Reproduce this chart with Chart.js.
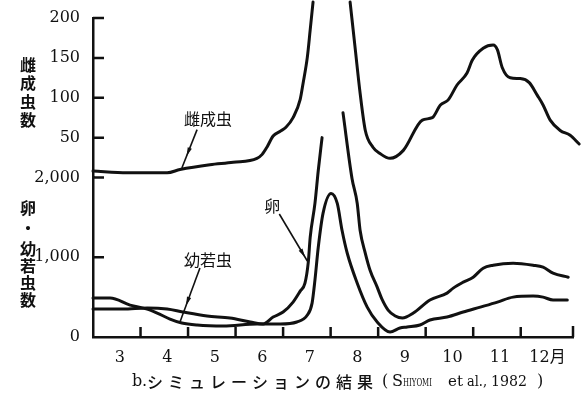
<!DOCTYPE html>
<html>
<head>
<meta charset="utf-8">
<script src="https://cdn.jsdelivr.net/npm/chart.js@4.4.1/dist/chart.umd.min.js"></script>
<style>
  html, body { margin: 0; padding: 0; background: #fff; }
  canvas { display: block; }
</style>
</head>
<body>
<canvas id="chart" width="585" height="394"></canvas>
<script>
// Simulated seasonal counts (Shiyomi et al., 1982) — x is month (3 = start of March)
const monthLabelPos = [3.5, 4.5, 5.5, 6.5, 7.5, 8.5, 9.5, 10.5, 11.5, 12.5];
const monthLabels = ['3', '4', '5', '6', '7', '8', '9', '10', '11', '12月'];
const monthBounds = [4, 5, 6, 7, 8, 9, 10, 11, 12];

const lowerTicks = [0, 1000, 2000];   // eggs / larvae
const upperTicks = [50, 100, 150, 200]; // female adults

// 雌成虫 (female adults) — peak runs off the top of the figure
const femaleMonths = [3.0, 3.72, 4.56, 4.83, 5.46, 5.95, 6.45, 6.56, 6.66, 6.79, 6.94, 7.06, 7.21, 7.36, 7.42,
  7.51, 7.57, 7.63, 8.0, 8.41, 8.52, 8.62, 8.73, 8.89, 9.04, 9.25, 9.53, 9.93, 10.14, 10.31, 10.47, 10.66,
  10.87, 10.98, 11.21, 11.42, 11.51, 11.61, 11.78, 11.99, 12.18, 12.35, 12.47, 12.62, 12.83, 13.04, 13.23];
const femaleCounts = [8, 6, 6, 10, 16, 19, 24, 29, 38, 52, 58, 63, 75, 98, 118,
  151, 185, 220, null, 220, 160, 106, 59, 38, 30, 24, 34, 72, 75, 91, 97, 116,
  131, 147, 162, 166, 160, 138, 125, 124, 119, 103, 91, 72, 59, 53, 42];

// 卵 (eggs) — peak also cut off
const eggMonths = [3.0, 3.63, 4.14, 4.56, 4.89, 5.40, 5.88, 6.31, 6.58, 6.79, 7.0, 7.21, 7.36, 7.46, 7.53,
  7.57, 7.67, 7.74, 7.82, 8.05, 8.26, 8.45, 8.56, 8.62, 8.73, 8.83, 8.98, 9.08, 9.21, 9.36, 9.51, 9.74,
  10.09, 10.45, 10.58, 10.79, 11.0, 11.21, 11.42, 11.84, 12.26, 12.47, 12.68, 13.0];
const eggCounts = [350, 350, 363, 350, 313, 263, 238, 188, 163, 250, 313, 438, 575, 675, 938,
  1250, 1675, 2088, 2500, null, 2813, 1988, 1675, 1338, 1050, 838, 625, 475, 338, 263, 238, 300,
  463, 550, 613, 688, 750, 863, 900, 925, 900, 875, 800, 750];

// 幼若虫 (larvae)
const larvaMonths = [3.0, 3.36, 3.78, 4.14, 4.35, 4.62, 4.87, 5.19, 5.74, 6.45, 6.58, 6.94, 7.29, 7.51, 7.61,
  7.67, 7.74, 7.84, 8.01, 8.14, 8.24, 8.35, 8.56, 8.77, 8.98, 9.25, 9.46, 9.61, 9.88, 10.09, 10.45, 10.79,
  11.15, 11.51, 11.84, 12.26, 12.47, 12.68, 12.98];
const larvaCounts = [488, 488, 400, 350, 300, 225, 175, 150, 138, 163, 163, 163, 188, 275, 425,
  713, 1125, 1550, 1800, 1675, 1338, 1050, 675, 375, 188, 63, 113, 125, 150, 213, 250, 313,
  375, 438, 500, 513, 500, 463, 463];

const INK = '#111';
const SERIF = "'DejaVu Serif', 'Noto Sans CJK JP', serif";
const CJK = "'Noto Sans CJK JP', sans-serif";

const toPoints = (xs, ys) => xs.map((x, i) => ({ x, y: ys[i] }));

// leader labels, placed in data coordinates
const notes = [
  { text: '雌成虫', axis: 'y2', at: [5.42, 73], from: [5.19, 60], to: [4.87, 12], t: 0.6 },
  { text: '幼若虫', axis: 'y', at: [5.42, 966], from: [5.25, 865], to: [4.83, 188], t: 0.63 },
  { text: '卵', axis: 'y', at: [6.77, 1643], from: [6.92, 1542], to: [7.51, 953], t: 0.85 },
];

const decorations = {
  id: 'decorations',
  afterDraw(chart) {
    const { ctx, chartArea, scales } = chart;
    ctx.save();
    ctx.strokeStyle = INK;
    ctx.fillStyle = INK;

    // inward tick marks
    ctx.lineWidth = 2.5;
    ctx.beginPath();
    for (const id of ['y', 'y2']) {
      for (const t of scales[id].ticks) {
        if (t.value === 0) continue;
        const py = scales[id].getPixelForValue(t.value);
        ctx.moveTo(chartArea.left, py);
        ctx.lineTo(chartArea.left + 11, py);
      }
    }
    for (const m of monthBounds) {
      const px = scales.x.getPixelForValue(m);
      ctx.moveTo(px, chartArea.bottom);
      ctx.lineTo(px, chartArea.bottom - 10);
    }
    ctx.moveTo(chartArea.right, chartArea.bottom);
    ctx.lineTo(chartArea.right, chartArea.bottom - 11);
    ctx.stroke();

    // vertical axis titles
    ctx.font = `bold 16px ${CJK}`;
    ctx.textAlign = 'center';
    ctx.textBaseline = 'middle';
    const upperTitle = ['雌', '成', '虫', '数'];
    upperTitle.forEach((ch, i) => ctx.fillText(ch, 28, 65 + i * 18.3));
    const lowerTitle = ['卵', '・', '幼', '若', '虫', '数'];
    const lowerY = [208, 228, 249, 266, 283, 300];
    lowerTitle.forEach((ch, i) => ctx.fillText(ch, 28, lowerY[i]));

    // leader labels
    ctx.font = `16px ${CJK}`;
    for (const n of notes) {
      const ys = scales[n.axis];
      const lx = scales.x.getPixelForValue(n.at[0]), ly = ys.getPixelForValue(n.at[1]);
      ctx.fillText(n.text, lx, ly);
      const x1 = scales.x.getPixelForValue(n.from[0]), y1 = ys.getPixelForValue(n.from[1]);
      const x2 = scales.x.getPixelForValue(n.to[0]), y2 = ys.getPixelForValue(n.to[1]);
      ctx.lineWidth = 1.6;
      ctx.beginPath();
      ctx.moveTo(x1, y1);
      ctx.lineTo(x2, y2);
      ctx.stroke();
      // small arrowhead part way down the leader
      const ang = Math.atan2(y2 - y1, x2 - x1);
      const hx = x1 + (x2 - x1) * n.t, hy = y1 + (y2 - y1) * n.t;
      ctx.beginPath();
      ctx.moveTo(hx + Math.cos(ang) * 4, hy + Math.sin(ang) * 4);
      ctx.lineTo(hx - Math.cos(ang) * 5 + Math.sin(ang) * 2.2, hy - Math.sin(ang) * 5 - Math.cos(ang) * 2.2);
      ctx.lineTo(hx - Math.cos(ang) * 5 - Math.sin(ang) * 2.2, hy - Math.sin(ang) * 5 + Math.cos(ang) * 2.2);
      ctx.closePath();
      ctx.fill();
    }

    // caption
    ctx.textAlign = 'left';
    ctx.font = `16px ${SERIF}`;
    ctx.fillText('b', 132, 382);
    ctx.fillText('.', 142, 382);
    ctx.font = `500 16px ${CJK}`;
    ctx.letterSpacing = '5px';
    ctx.fillText('シミュレーションの結果', 147, 382);
    ctx.letterSpacing = '0px';
    ctx.font = `16px ${SERIF}`;
    ctx.fillText('(', 382, 382);
    ctx.fillText('S', 392, 382);
    ctx.font = `11px ${SERIF}`;
    ctx.fillText('HIYOMI', 403, 383, 29);
    ctx.font = `15px ${SERIF}`;
    ctx.fillText('et', 448, 382, 15);
    ctx.fillText('al.,', 467, 382, 20);
    ctx.fillText('1982', 491, 382, 36);
    ctx.font = `16px ${SERIF}`;
    ctx.fillText(')', 537, 382);
    ctx.restore();
  },
};

const tickFont = { family: SERIF, size: 16 };

new Chart(document.getElementById('chart'), {
  type: 'line',
  data: {
    datasets: [
      { label: '雌成虫', data: toPoints(femaleMonths, femaleCounts), yAxisID: 'y2', clip: false },
      { label: '卵', data: toPoints(eggMonths, eggCounts), yAxisID: 'y', clip: false },
      { label: '幼若虫', data: toPoints(larvaMonths, larvaCounts), yAxisID: 'y', clip: false },
    ],
  },
  options: {
    responsive: false,
    animation: false,
    events: [],
    layout: { padding: { top: 18, right: 12, left: 0, bottom: 0 } },
    plugins: { legend: { display: false }, tooltip: { enabled: false } },
    elements: {
      point: { radius: 0 },
      line: {
        borderColor: INK, borderWidth: 3, cubicInterpolationMode: 'monotone',
        borderCapStyle: 'round', borderJoinStyle: 'round', fill: false,
      },
    },
    scales: {
      x: {
        type: 'linear', min: 3, max: 13.1,
        afterBuildTicks: (s) => { s.ticks = monthLabelPos.map((v) => ({ value: v })); },
        afterFit: (s) => { s.height = 57; },
        grid: { display: false },
        border: { color: INK, width: 2.5 },
        ticks: {
          font: tickFont, color: INK, padding: 3, labelOffset: 3, maxRotation: 0, autoSkip: false,
          callback: (v, i) => monthLabels[i],
        },
      },
      y: {
        type: 'linear', position: 'left', stack: 'panels', stackWeight: 1, min: 0, max: 2000,
        afterBuildTicks: (s) => { s.ticks = lowerTicks.map((v) => ({ value: v })); },
        afterFit: (s) => { s.width = 93; },
        grid: { display: false },
        border: { color: INK, width: 2.5 },
        ticks: { font: tickFont, color: INK, padding: 5, callback: (v) => v.toLocaleString('en-US') },
      },
      y2: {
        type: 'linear', position: 'left', stack: 'panels', stackWeight: 1, min: 0, max: 200,
        afterBuildTicks: (s) => { s.ticks = upperTicks.map((v) => ({ value: v })); },
        afterFit: (s) => { s.width = 93; },
        grid: { display: false },
        border: { color: INK, width: 2.5 },
        ticks: { font: tickFont, color: INK, padding: 5, callback: (v) => String(v) },
      },
    },
  },
  plugins: [decorations],
});
</script>
</body>
</html>
